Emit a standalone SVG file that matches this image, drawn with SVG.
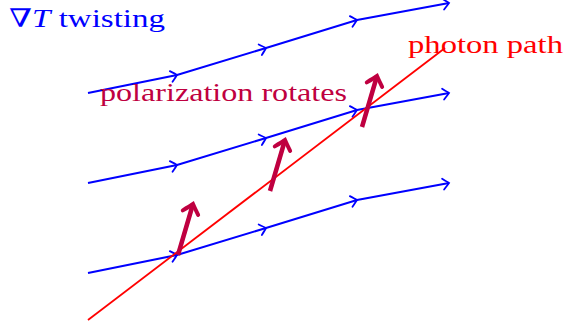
<svg xmlns="http://www.w3.org/2000/svg" width="566" height="327" viewBox="0 0 566 327">
<defs>
<style>
.field{fill:none;stroke:#0000FF;stroke-width:2;marker-mid:url(#ab);marker-end:url(#ab)}
.photon{fill:none;stroke:#FF0000;stroke-width:1.8}
.pol{fill:none;stroke:#BF0040;stroke-width:4.5;marker-end:url(#ap)}
.lbl{font-family:"Liberation Serif","DejaVu Serif",serif;font-size:25.5px}
</style>
<marker id="ab" markerUnits="userSpaceOnUse" viewBox="-8 -7 10 14" markerWidth="10" markerHeight="14" refX="0" refY="0" orient="auto" overflow="visible">
<path d="M-6,-5.5 Q-1.5,-1.5 0,0 Q-1.5,1.5 -6,5.5" fill="none" stroke="#0000FF" stroke-width="1.8" stroke-linecap="round"/>
</marker>
<marker id="ap" markerUnits="userSpaceOnUse" viewBox="-12 -10 14 20" markerWidth="14" markerHeight="20" refX="0" refY="0" orient="auto" overflow="visible">
<path d="M-9,-8 Q-3,-2.5 0,0 Q-3,2.5 -9,8" fill="none" stroke="#BF0040" stroke-width="4" stroke-linecap="round"/>
</marker>
</defs>
<g id="connectors">
<polyline class="field" points="88,93 177,75 266,48 357,20 449,3"/>
<polyline class="field" points="88,183 177,165 266,138 357,110 449,93"/>
<polyline class="field" points="88,273 177,255 266,228 357,200 449,183"/>
<line class="photon" x1="88" y1="320" x2="445" y2="48"/>
<line class="pol" x1="178" y1="255" x2="193" y2="204"/>
<line class="pol" x1="270" y1="191" x2="285" y2="140"/>
<line class="pol" x1="362" y1="127" x2="377" y2="76"/>
</g>
<g id="label-twisting"><text class="lbl" x="9" y="27" fill="#0000FF" textLength="156" lengthAdjust="spacingAndGlyphs">∇<tspan font-style="italic">T</tspan> twisting</text></g>
<g id="label-photon"><text class="lbl" x="408" y="53" fill="#FF0000" textLength="155" lengthAdjust="spacingAndGlyphs">photon path</text></g>
<g id="label-polarization"><text class="lbl" x="100" y="101" fill="#BF0040" textLength="247" lengthAdjust="spacingAndGlyphs">polarization rotates</text></g>
</svg>
